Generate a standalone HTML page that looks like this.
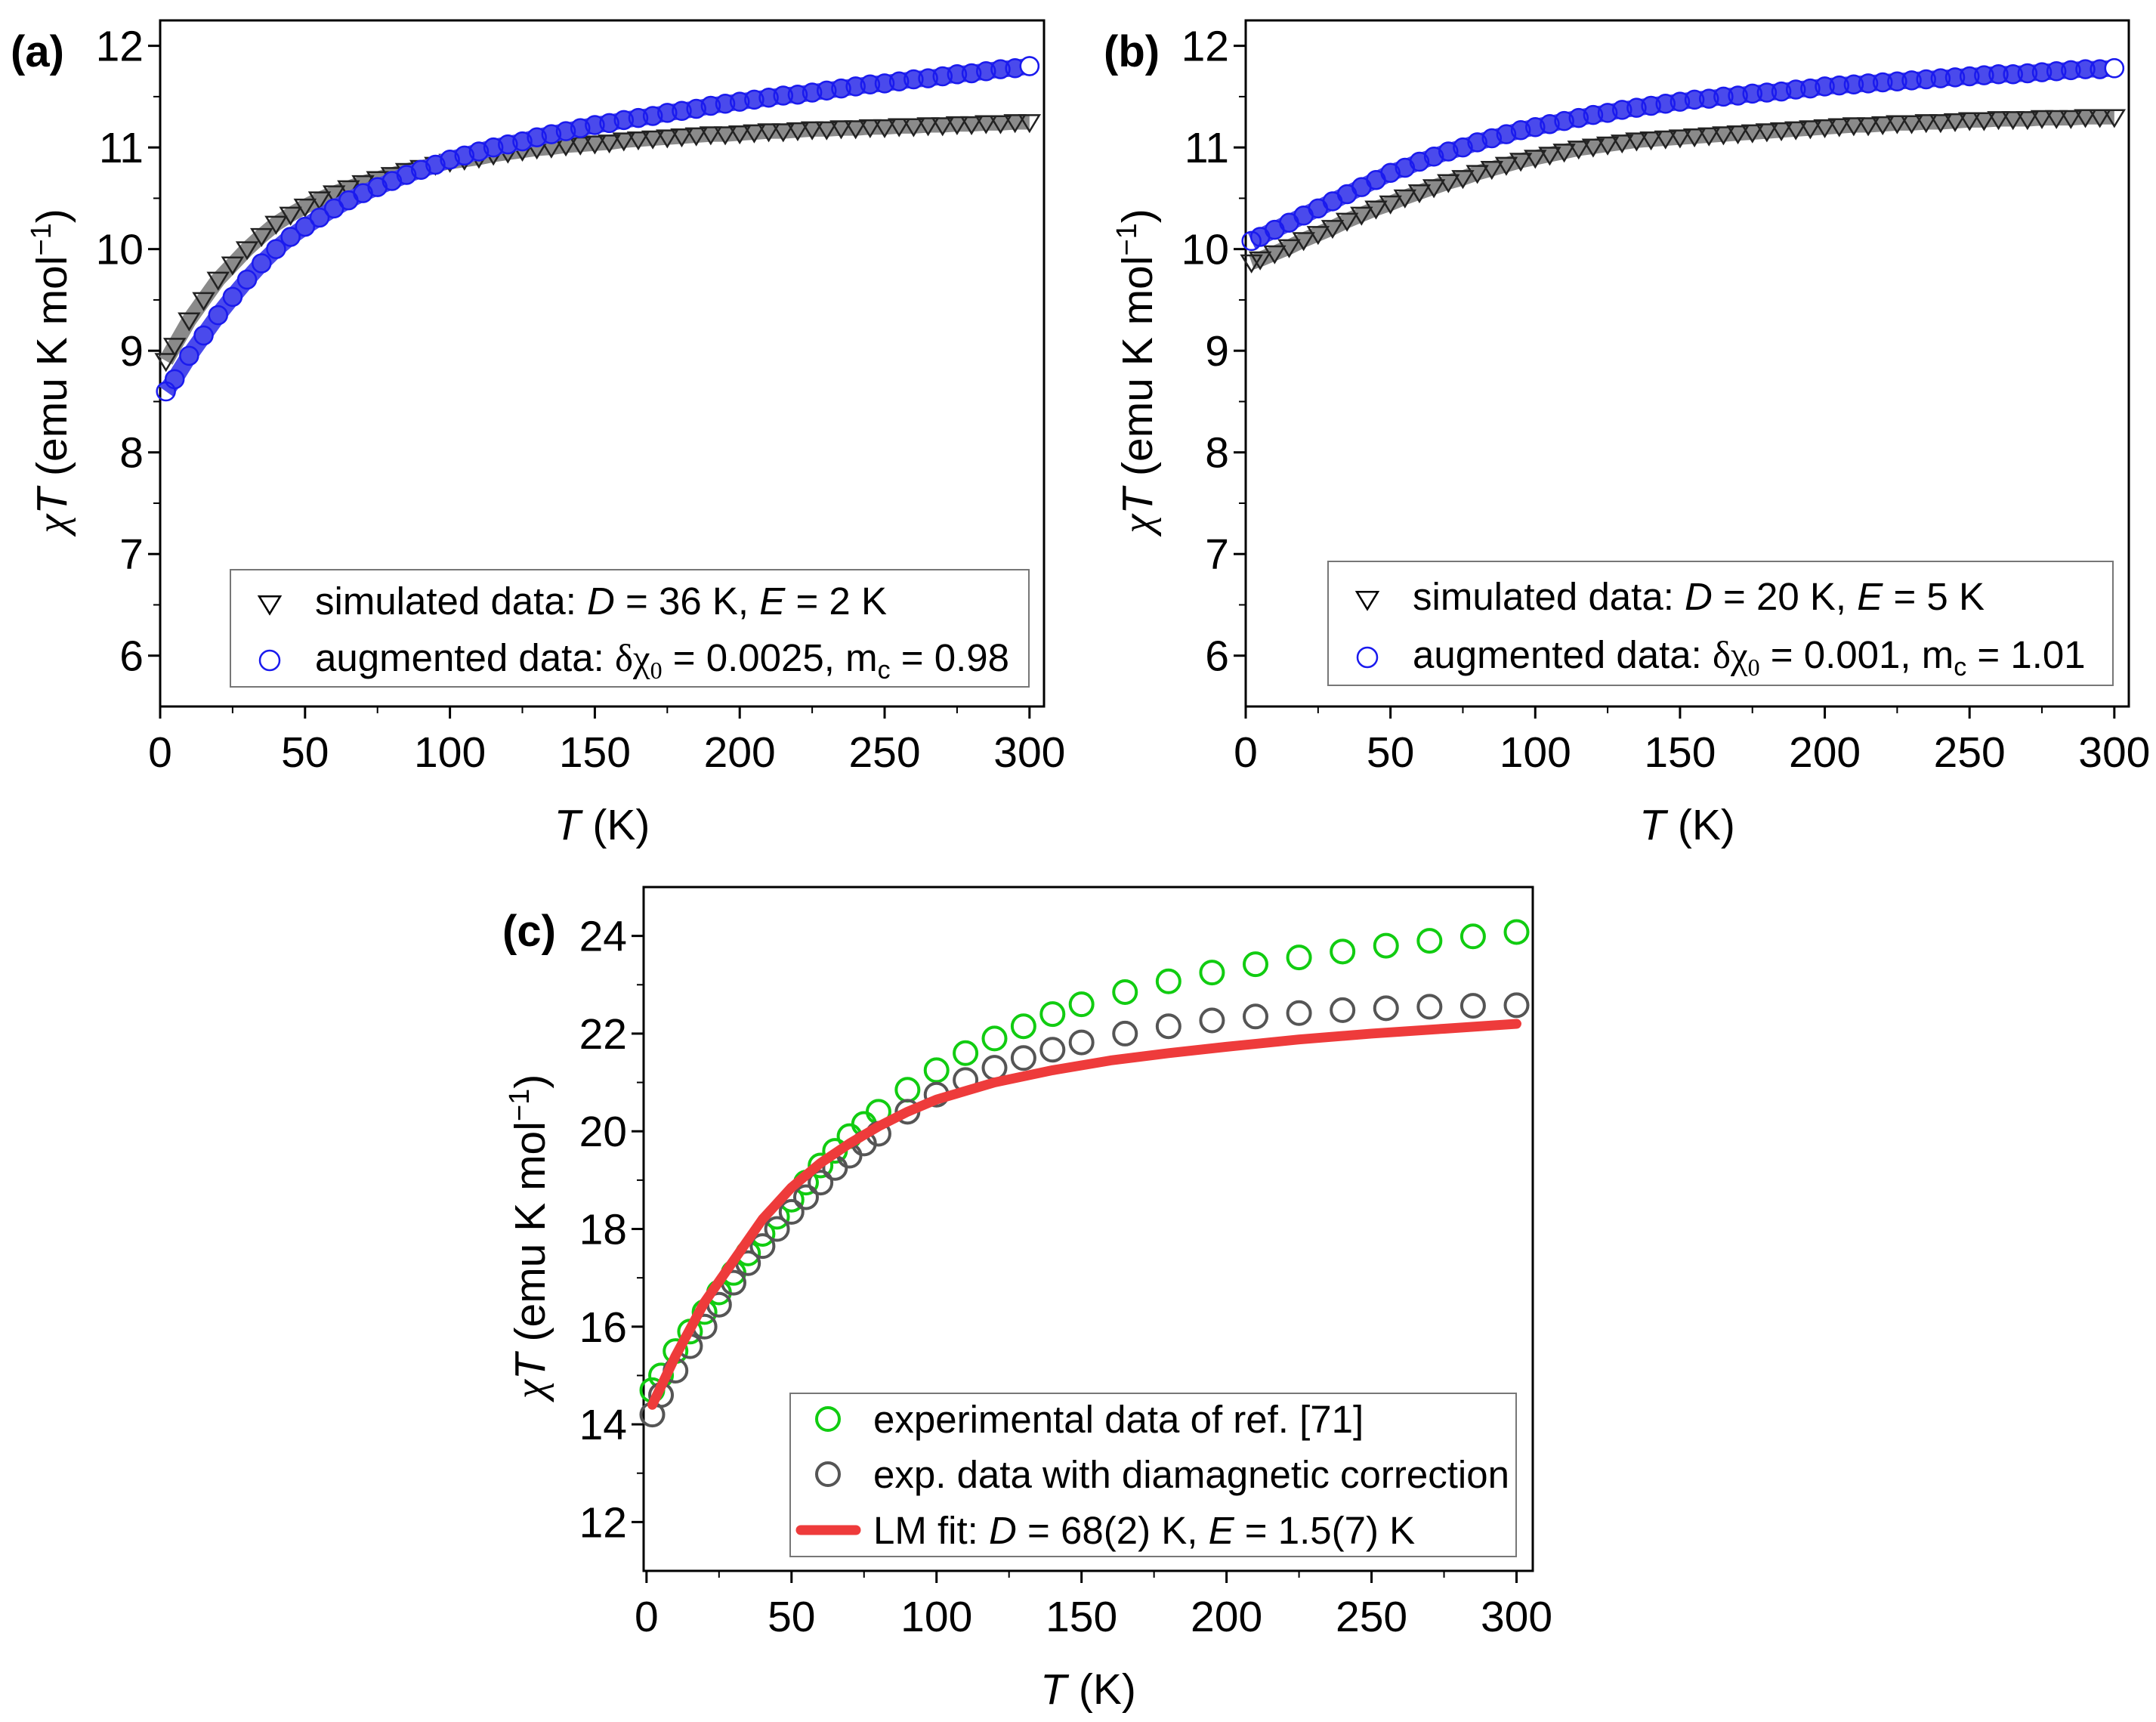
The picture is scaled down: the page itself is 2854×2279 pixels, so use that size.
<!DOCTYPE html>
<html><head><meta charset="utf-8"><style>
html,body{margin:0;padding:0;background:#fff}
svg{display:block;font-family:"Liberation Sans",Arial,sans-serif}
</style></head><body>
<svg id="fig" width="2854" height="2279" viewBox="0 0 2854 2279"></svg>
<script>
const T5=[2,5,10,15,20,25,30,35,40,45,50,55,60,65,70,75,80,85,90,95,100,105,110,115,120,125,130,135,140,145,150,155,160,165,170,175,180,185,190,195,200,205,210,215,220,225,230,235,240,245,250,255,260,265,270,275,280,285,290,295,300];
const aSim=[8.9,9.05,9.3,9.5,9.7,9.85,10.0,10.13,10.25,10.34,10.42,10.49,10.55,10.6,10.65,10.69,10.73,10.77,10.8,10.83,10.86,10.88,10.9,10.93,10.95,10.97,10.99,11.0,11.02,11.03,11.04,11.05,11.07,11.08,11.09,11.1,11.11,11.12,11.13,11.13,11.14,11.15,11.16,11.16,11.17,11.18,11.18,11.19,11.19,11.2,11.2,11.21,11.21,11.22,11.22,11.23,11.23,11.24,11.24,11.25,11.25];
const aAug=[8.6,8.72,8.95,9.15,9.35,9.53,9.7,9.86,10.0,10.12,10.22,10.31,10.4,10.48,10.55,10.61,10.67,10.73,10.78,10.83,10.88,10.92,10.96,11.0,11.03,11.06,11.1,11.13,11.16,11.19,11.22,11.24,11.27,11.29,11.31,11.34,11.36,11.38,11.41,11.43,11.45,11.47,11.49,11.51,11.52,11.54,11.56,11.58,11.6,11.62,11.63,11.65,11.67,11.68,11.7,11.72,11.73,11.75,11.77,11.78,11.8];
const bSim=[9.87,9.9,9.96,10.02,10.09,10.15,10.21,10.28,10.34,10.4,10.45,10.51,10.56,10.61,10.66,10.7,10.75,10.79,10.83,10.87,10.9,10.93,10.96,10.99,11.01,11.03,11.05,11.07,11.08,11.09,11.1,11.11,11.12,11.13,11.14,11.15,11.16,11.17,11.18,11.19,11.2,11.21,11.22,11.22,11.23,11.24,11.24,11.25,11.25,11.26,11.27,11.27,11.28,11.28,11.28,11.29,11.29,11.29,11.3,11.3,11.3];
const bAug=[10.08,10.12,10.19,10.26,10.33,10.4,10.47,10.54,10.61,10.68,10.75,10.8,10.86,10.91,10.96,11.0,11.05,11.09,11.13,11.17,11.2,11.23,11.26,11.29,11.32,11.34,11.37,11.39,11.41,11.43,11.45,11.47,11.48,11.5,11.51,11.53,11.54,11.55,11.57,11.58,11.6,11.61,11.62,11.63,11.64,11.65,11.66,11.67,11.68,11.69,11.7,11.71,11.72,11.72,11.73,11.74,11.75,11.76,11.77,11.77,11.78];
const Tc=[2,5,10,15,20,25,30,35,40,45,50,55,60,65,70,75,80,90,100,110,120,130,140,150,165,180,195,210,225,240,255,270,285,300];
const cExp=[14.7,15.0,15.5,15.9,16.3,16.7,17.1,17.5,17.9,18.25,18.6,18.95,19.3,19.6,19.9,20.15,20.4,20.85,21.25,21.6,21.9,22.15,22.4,22.6,22.85,23.07,23.25,23.42,23.56,23.68,23.8,23.9,23.99,24.08];
const cDia=[14.2,14.6,15.1,15.6,16.0,16.45,16.9,17.3,17.65,18.0,18.35,18.65,18.95,19.25,19.5,19.75,19.95,20.4,20.75,21.05,21.3,21.5,21.67,21.82,22.0,22.15,22.27,22.35,22.42,22.48,22.52,22.55,22.57,22.58];
const Tfit=[2,10,20,30,40,50,60,70,80,90,100,120,140,160,180,200,225,250,275,300];
const cFit=[14.4,15.4,16.5,17.35,18.2,18.85,19.35,19.75,20.1,20.4,20.65,21.0,21.25,21.45,21.6,21.73,21.88,22.0,22.1,22.2];
const xTicks=[0,50,100,150,200,250,300];
const yTicksAB=[6,7,8,9,10,11,12];
const yTicksC=[12,14,16,18,20,22,24];

const NS="http://www.w3.org/2000/svg";
const svg=document.getElementById('fig');
function el(tag,attrs,parent,txt){const e=document.createElementNS(NS,tag);for(const k in attrs)e.setAttribute(k,attrs[k]);if(txt!==undefined)e.textContent=txt;(parent||svg).appendChild(e);return e;}

function panel(o){
  const g=el('g',{});
  
  
  const sx=v=>o.L+(v-o.x0)/(o.x1-o.x0)*(o.R-o.L);
  const sy=v=>o.B-(v-o.y0)/(o.y1-o.y0)*(o.B-o.T);
  const frame=el('rect',{x:o.L,y:o.T,width:o.R-o.L,height:o.B-o.T,fill:'none',stroke:'#000','stroke-width':3},g);
  
  
  xTicks.forEach(t=>{
    el('line',{x1:sx(t),x2:sx(t),y1:o.B,y2:o.B+16,stroke:'#000','stroke-width':3},g);
    if(t<300) el('line',{x1:sx(t+25),x2:sx(t+25),y1:o.B,y2:o.B+9,stroke:'#000','stroke-width':2},g);
    const lb=el('text',{x:sx(t),y:o.B+80,'font-size':57,'text-anchor':'middle'},g,String(t));
    
    
  });
  o.yt.forEach((t,i)=>{
    el('line',{x1:o.L-16,x2:o.L,y1:sy(t),y2:sy(t),stroke:'#000','stroke-width':3},g);
    const h=t+o.ystep/2; if(h<o.y1) el('line',{x1:o.L-9,x2:o.L,y1:sy(h),y2:sy(h),stroke:'#000','stroke-width':2},g);
    if(i===0){const h2=t-o.ystep/2; if(h2>o.y0) el('line',{x1:o.L-9,x2:o.L,y1:sy(h2),y2:sy(h2),stroke:'#000','stroke-width':2},g);}
    const lb=el('text',{x:o.L-22,y:sy(t)+20,'font-size':57,'text-anchor':'end'},g,String(t));
    
    
  });
  const xt=el('text',{x:(o.L+o.R)/2,y:o.B+176,'font-size':57,'text-anchor':'middle'},g);
  
  
  el('tspan',{'font-style':'italic'},xt,'T');el('tspan',{},xt,' (K)');
  const cy=(o.T+o.B)/2+10;
  const yt=el('text',{x:o.ytx,y:cy,'font-size':57,'text-anchor':'middle',transform:`rotate(-90 ${o.ytx} ${cy})`},g);
  
  
  el('tspan',{'font-family':'Liberation Serif, serif','font-style':'italic'},yt,'χ');
  el('tspan',{'font-style':'italic'},yt,'T');
  el('tspan',{},yt,' (emu K mol');
  el('tspan',{'font-size':38,dy:-21},yt,'−1');
  el('tspan',{dy:21},yt,')');
  const pl=el('text',{x:o.plx,y:o.ply,'font-size':58,'font-weight':'bold'},g,o.label);
  
  
  return {g,sx,sy};
}
function tri(g,x,y,r,col){return el('path',{d:`M${x-r},${y-r*0.7} L${x+r},${y-r*0.7} L${x},${y+r*0.95} Z`,fill:'none',stroke:col,'stroke-width':2.5},g);}

function abPanel(name,label,L,R,plx,ytx,sim,aug,leg){
  const p=panel({name,label,L,R,T:27,B:935,x0:0,x1:305,y0:5.5,y1:12.25,yt:yTicksAB,ystep:1,plx,ply:88,ytx});
  const gs=el('g',{},p.g);
  el('polyline',{points:T5.map((t,i)=>p.sx(t)+','+p.sy(sim[i])).join(' '),fill:'none',stroke:'#8a8a8a','stroke-width':20,'stroke-linejoin':'round'},gs);
  T5.forEach((t,i)=>{const m=tri(gs,p.sx(t),p.sy(sim[i]),13,'#222');});
  const ga=el('g',{},p.g);
  el('polyline',{points:T5.map((t,i)=>p.sx(t)+','+p.sy(aug[i])).join(' '),fill:'none',stroke:'#4a4aec','stroke-width':22,'stroke-linejoin':'round'},ga);
  T5.forEach((t,i)=>{const m=el('circle',{cx:p.sx(t),cy:p.sy(aug[i]),r:12,fill:'none',stroke:'#1a1aee','stroke-width':2.5},ga);});
  el('circle',{cx:p.sx(300),cy:p.sy(aug[aug.length-1]),r:12,fill:'#fff',stroke:'#1a1aee','stroke-width':2.5},ga);
  const lg=el('g',{},p.g);
  el('rect',{x:leg.x,y:leg.y,width:leg.w,height:leg.h,fill:'#fff',stroke:'#777','stroke-width':2},lg);
  tri(lg,leg.x+52,leg.y+leg.r1-14,14,'#000');
  el('circle',{cx:leg.x+52,cy:leg.y+leg.r2-14,r:13,fill:'none',stroke:'#1a1aee','stroke-width':2.5},lg);
  const t1=el('text',{x:leg.x+112,y:leg.y+leg.r1,'font-size':51},lg);
  
  el('tspan',{},t1,'simulated data: ');el('tspan',{'font-style':'italic'},t1,'D');el('tspan',{},t1,' = '+leg.D+' K, ');el('tspan',{'font-style':'italic'},t1,'E');el('tspan',{},t1,' = '+leg.E+' K');
  const t2=el('text',{x:leg.x+112,y:leg.y+leg.r2,'font-size':51},lg);
  
  el('tspan',{},t2,'augmented data: ');el('tspan',{'font-family':'Liberation Serif, serif'},t2,'δχ');el('tspan',{'font-family':'Liberation Serif, serif','font-size':32,dy:10},t2,'0');
  el('tspan',{dy:-10},t2,' = '+leg.d+', m');el('tspan',{'font-size':34,dy:10},t2,'c');el('tspan',{dy:-10},t2,' = '+leg.m);
}
abPanel('panel-a','(a)',212,1382,14,88,aSim,aAug,{x:305,y:754,w:1057,h:155,D:36,E:2,d:'0.0025',m:'0.98',r1:59,r2:134});
abPanel('panel-b','(b)',1649,2818,1461,1525,bSim,bAug,{x:1758,y:743,w:1039,h:164,D:20,E:5,d:'0.001',m:'1.01',r1:64,r2:141});

const pc=panel({name:'panel-c',label:'(c)',L:852,R:2029,T:1174,B:2079,x0:-1,x1:305.6,y0:11,y1:25,yt:yTicksC,ystep:2,plx:665,ply:1252,ytx:721});
const gE=el('g',{},pc.g);
Tc.forEach((t,i)=>{const m=el('circle',{cx:pc.sx(t),cy:pc.sy(cExp[i]),r:15,fill:'none',stroke:'#11cc11','stroke-width':4},gE);});
const gD=el('g',{},pc.g);
Tc.forEach((t,i)=>{const m=el('circle',{cx:pc.sx(t),cy:pc.sy(cDia[i]),r:15,fill:'none',stroke:'#555','stroke-width':4},gD);});
const fitLine=el('polyline',{points:Tfit.map((t,i)=>pc.sx(t)+','+pc.sy(cFit[i])).join(' '),fill:'none',stroke:'#ee3b3b','stroke-width':13,'stroke-linejoin':'round','stroke-linecap':'round'},pc.g);

const lgc=el('g',{},pc.g);
el('rect',{x:1046,y:1844,width:961,height:216,fill:'#fff',stroke:'#777','stroke-width':2},lgc);
el('circle',{cx:1096,cy:1878,r:15,fill:'none',stroke:'#11cc11','stroke-width':4},lgc);
el('circle',{cx:1096,cy:1951,r:15,fill:'none',stroke:'#555','stroke-width':4},lgc);
el('line',{x1:1060,x2:1133,y1:2025,y2:2025,stroke:'#ee3b3b','stroke-width':13,'stroke-linecap':'round'},lgc);
const l1=el('text',{x:1156,y:1896,'font-size':51},lgc,'experimental data of ref. [71]');

const l2=el('text',{x:1156,y:1969,'font-size':51},lgc,'exp. data with diamagnetic correction');

const l3=el('text',{x:1156,y:2043,'font-size':51},lgc);

el('tspan',{},l3,'LM fit: ');el('tspan',{'font-style':'italic'},l3,'D');el('tspan',{},l3,' = 68(2) K, ');el('tspan',{'font-style':'italic'},l3,'E');el('tspan',{},l3,' = 1.5(7) K');
</script>
</body></html>
